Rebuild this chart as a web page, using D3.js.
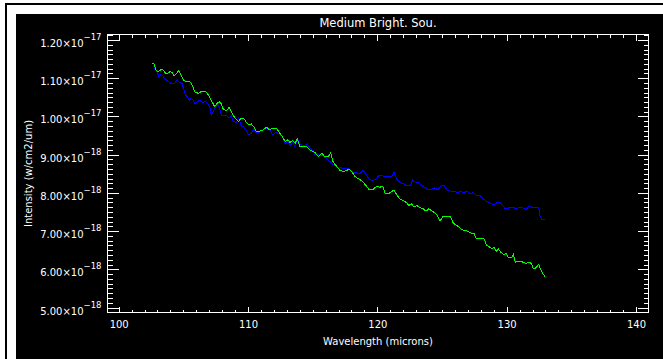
<!DOCTYPE html>
<html>
<head>
<meta charset="utf-8">
<script src="https://cdnjs.cloudflare.com/ajax/libs/d3/7.8.5/d3.min.js"></script>
<style>
  body { margin: 0; background: #fff; }
  svg { display: block; }
</style>
</head>
<body>
<svg id="chart" width="663" height="359"></svg>
<script>
// spectra, flux in units of 1e-18 w/cm2/um
var blueWave = [102.80,102.94,103.14,103.29,103.45,103.60,103.76,104.02,104.33,104.53,
  104.68,104.89,105.01,105.15,105.30,105.46,105.61,105.77,105.92,106.08,
  106.28,106.49,106.69,106.90,107.06,107.16,107.31,107.47,107.62,107.78,
  107.93,108.14,108.35,108.55,108.71,108.86,109.07,109.28,109.48,109.69,
  109.90,110.05,110.25,110.46,110.62,110.82,111.08,111.39,111.64,111.91,
  112.16,112.42,112.68,112.88,113.09,113.25,113.45,113.61,113.81,114.02,
  114.27,114.58,114.74,115.00,115.18,115.36,115.57,115.82,116.08,116.34,
  116.59,116.90,117.24,117.63,117.89,118.14,118.45,118.71,118.91,119.12,
  119.38,119.64,119.90,120.11,120.36,120.62,120.88,121.13,121.29,121.50,
  121.75,122.01,122.27,122.53,122.73,122.94,123.20,123.45,123.71,123.97,
  124.23,124.44,124.69,124.95,125.16,125.41,125.67,125.93,126.18,126.45,
  126.70,126.91,127.17,127.42,127.68,127.94,128.19,128.46,128.71,129.02,
  129.23,129.49,129.64,129.85,130.11,130.36,130.57,130.78,130.98,131.24,
  131.50,131.75,132.02,132.27,132.48,132.58,132.74,132.99];
var blueFlux = [11.26,11.17,11.03,11.11,11.04,10.97,10.94,10.87,10.87,10.96,
  10.89,10.87,10.75,10.56,10.52,10.42,10.48,10.42,10.33,10.39,
  10.42,10.36,10.39,10.33,10.22,10.04,10.13,10.24,10.33,10.24,
  10.04,10.02,10.02,9.96,10.02,9.87,9.84,9.96,9.75,9.72,
  9.61,9.52,9.55,9.67,9.58,9.58,9.63,9.69,9.67,9.52,
  9.58,9.55,9.46,9.28,9.37,9.23,9.32,9.21,9.41,9.27,
  9.23,9.28,9.20,9.11,9.00,9.04,8.97,8.97,8.89,8.82,
  8.74,8.68,8.65,8.65,8.61,8.54,8.52,8.52,8.59,8.48,
  8.36,8.32,8.36,8.45,8.45,8.42,8.42,8.43,8.54,8.36,
  8.27,8.24,8.19,8.19,8.33,8.27,8.26,8.19,8.13,8.08,
  8.10,8.13,8.08,8.19,8.19,8.07,8.04,8.04,8.01,8.04,
  8.00,8.04,7.98,8.01,7.93,7.93,7.84,7.78,7.73,7.69,
  7.74,7.75,7.69,7.60,7.60,7.63,7.61,7.58,7.63,7.61,
  7.56,7.67,7.61,7.61,7.63,7.39,7.29,7.32];

var greenWave = [102.57,102.73,102.88,103.04,103.35,103.50,103.65,103.96,104.12,104.27,
  104.43,104.64,104.79,104.99,105.20,105.51,105.67,105.92,106.18,106.38,
  106.69,106.85,107.06,107.27,107.42,107.58,107.78,107.93,108.09,108.35,
  108.55,108.71,108.91,109.12,109.28,109.43,109.69,109.90,110.10,110.25,
  110.46,110.62,110.82,111.08,111.44,111.64,111.91,112.22,112.47,112.68,
  112.88,113.09,113.25,113.45,113.65,113.81,114.02,114.27,114.54,114.85,
  115.18,115.43,115.70,115.95,116.21,116.39,116.59,116.86,117.11,117.42,
  117.63,117.83,118.04,118.30,118.60,118.87,119.12,119.38,119.69,119.95,
  120.21,120.41,120.62,120.88,121.13,121.29,121.50,121.75,122.01,122.27,
  122.43,122.63,122.84,123.04,123.30,123.55,123.76,123.97,124.28,124.59,
  124.85,125.05,125.36,125.67,125.87,126.18,126.45,126.70,126.96,127.22,
  127.48,127.63,127.94,128.25,128.46,128.66,128.87,129.02,129.18,129.36,
  129.54,129.74,129.95,130.16,130.36,130.52,130.67,130.98,131.24,131.50,
  131.71,131.91,132.06,132.27,132.48,132.68,132.99];
var greenFlux = [11.39,11.37,11.22,11.17,11.24,11.20,11.11,11.17,11.15,11.06,
  11.11,11.20,11.11,10.96,10.91,10.91,10.83,10.62,10.61,10.65,
  10.65,10.61,10.48,10.35,10.26,10.33,10.39,10.33,10.19,10.15,
  10.24,10.13,10.00,9.91,9.87,9.94,9.94,9.83,9.78,9.81,
  9.72,9.62,9.61,9.63,9.72,9.65,9.69,9.68,9.56,9.46,
  9.34,9.39,9.32,9.37,9.30,9.41,9.21,9.20,9.21,9.11,
  9.06,8.95,9.04,8.94,8.95,9.04,8.80,8.69,8.59,8.56,
  8.59,8.62,8.54,8.42,8.36,8.30,8.19,8.08,8.10,8.17,
  8.15,8.17,7.98,7.98,8.04,8.07,7.95,7.84,7.80,7.74,
  7.67,7.72,7.63,7.67,7.61,7.58,7.52,7.58,7.52,7.43,
  7.26,7.37,7.37,7.37,7.21,7.14,7.06,7.02,7.00,6.95,
  6.93,6.82,6.80,6.80,6.62,6.59,6.53,6.59,6.47,6.53,
  6.45,6.39,6.41,6.30,6.30,6.39,6.19,6.21,6.19,6.15,
  6.19,6.15,6.01,6.04,6.13,5.95,5.79];

var xTicks = [100, 110, 120, 130, 140];
var yTicks = [5, 6, 7, 8, 9, 10, 11, 12];   // x 1e-18
var title = "Medium Bright. Sou.";
var xTitle = "Wavelength (microns)";
var yTitle = "Intensity (w/cm2/um)";

var svg = d3.select("#chart");
var font = "'DejaVu Sans', sans-serif";

// window frame (white surround, thin black border, black plot window)
svg.append("rect").attr("width", 663).attr("height", 359).attr("fill", "#fff");
svg.append("path")
    .attr("d", "M6,359V4H663")
    .attr("fill", "none")
    .attr("stroke", "#000")
    .attr("stroke-width", 2);
svg.append("rect")
    .attr("x", 16).attr("y", 14)
    .attr("width", 647).attr("height", 345)
    .attr("fill", "#000");

var x = d3.scaleLinear()
    .domain([99.136, 140.967])
    .range([107.5, 648.5]);
var y = d3.scaleLinear()
    .domain([4.87, 12.144])
    .range([312.5, 34.5]);

var xMinor = d3.range(101, 141, 1).filter(function(d) { return d % 10 != 0; });
var yMinor = d3.range(40, 98, 1).map(function(d) { return d * 0.125; })
    .filter(function(d) { return d % 1 != 0 && d > y.domain()[0] && d < y.domain()[1]; });

function styleAxis(g) {
  g.attr("color", "#fff")
   .attr("font-family", font)
   .attr("font-size", 10)
   .attr("shape-rendering", "crispEdges");
  g.select(".domain").remove();
  g.selectAll("text").attr("fill", "#fff");
}

// bottom
svg.append("g")
    .attr("transform", "translate(0," + y.range()[0] + ")")
    .call(d3.axisBottom(x).tickValues(xTicks).tickSizeInner(-6).tickSizeOuter(0).tickPadding(8).tickFormat(d3.format("d")))
    .call(styleAxis);
svg.append("g")
    .attr("transform", "translate(0," + y.range()[0] + ")")
    .call(d3.axisBottom(x).tickValues(xMinor).tickSizeInner(-3).tickSizeOuter(0).tickFormat(""))
    .call(styleAxis);
// top
svg.append("g")
    .attr("transform", "translate(0," + y.range()[1] + ")")
    .call(d3.axisTop(x).tickValues(xTicks).tickSizeInner(-6).tickSizeOuter(0).tickFormat(""))
    .call(styleAxis);
svg.append("g")
    .attr("transform", "translate(0," + y.range()[1] + ")")
    .call(d3.axisTop(x).tickValues(xMinor).tickSizeInner(-3).tickSizeOuter(0).tickFormat(""))
    .call(styleAxis);

// left
var yAxisG = svg.append("g")
    .attr("transform", "translate(" + x.range()[0] + ",0)")
    .call(d3.axisLeft(y).tickValues(yTicks).tickSizeInner(-11).tickSizeOuter(0).tickPadding(6))
    .call(styleAxis);
svg.append("g")
    .attr("transform", "translate(" + x.range()[0] + ",0)")
    .call(d3.axisLeft(y).tickValues(yMinor).tickSizeInner(-5).tickSizeOuter(0).tickFormat(""))
    .call(styleAxis);
// right
svg.append("g")
    .attr("transform", "translate(" + x.range()[1] + ",0)")
    .call(d3.axisRight(y).tickValues(yTicks).tickSizeInner(-11).tickSizeOuter(0).tickFormat(""))
    .call(styleAxis);
svg.append("g")
    .attr("transform", "translate(" + x.range()[1] + ",0)")
    .call(d3.axisRight(y).tickValues(yMinor).tickSizeInner(-5).tickSizeOuter(0).tickFormat(""))
    .call(styleAxis);

// y labels like 1.20x10^-17
yAxisG.selectAll(".tick text").each(function(d) {
  var t = d3.select(this).text(null).attr("dy", "0.65em");
  var exp = d >= 10 ? 17 : 18;
  var man = d >= 10 ? d / 10 : d;
  t.append("tspan").text(d3.format(".2f")(man) + "\u00d710");
  t.append("tspan").attr("dy", -7).attr("font-size", 8.5).text("\u2212" + exp);
});

// box
svg.append("rect")
    .attr("x", x.range()[0]).attr("y", y.range()[1])
    .attr("width", x.range()[1] - x.range()[0])
    .attr("height", y.range()[0] - y.range()[1])
    .attr("fill", "none")
    .attr("stroke", "#fff")
    .attr("shape-rendering", "crispEdges");

// spectra
var line = d3.line()
    .x(function(d) { return x(d[0]); })
    .y(function(d) { return y(d[1]); });

svg.append("path")
    .datum(d3.zip(blueWave, blueFlux))
    .attr("d", line)
    .attr("fill", "none")
    .attr("stroke", "#0000ff")
    .attr("stroke-width", 1)
    .attr("shape-rendering", "crispEdges");

svg.append("path")
    .datum(d3.zip(greenWave, greenFlux))
    .attr("d", line)
    .attr("fill", "none")
    .attr("stroke", "#00ff00")
    .attr("stroke-width", 1)
    .attr("shape-rendering", "crispEdges");

// titles
var xMid = (x.range()[0] + x.range()[1]) / 2;
svg.append("text")
    .attr("x", xMid).attr("y", 27)
    .attr("text-anchor", "middle")
    .attr("font-family", font).attr("font-size", 11.5)
    .attr("fill", "#fff")
    .text(title);
svg.append("text")
    .attr("x", xMid).attr("y", 345)
    .attr("text-anchor", "middle")
    .attr("font-family", font).attr("font-size", 10)
    .attr("fill", "#fff")
    .text(xTitle);
svg.append("text")
    .attr("transform", "translate(32," + (y.range()[0] + y.range()[1]) / 2 + ") rotate(-90)")
    .attr("text-anchor", "middle")
    .attr("font-family", font).attr("font-size", 10)
    .attr("fill", "#fff")
    .text(yTitle);
</script>
</body>
</html>
